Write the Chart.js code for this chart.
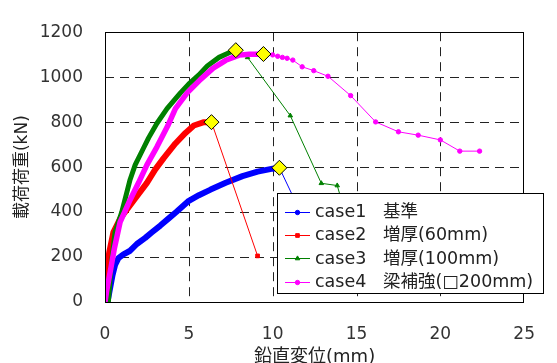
<!DOCTYPE html>
<html>
<head>
<meta charset="utf-8">
<script src="https://cdn.jsdelivr.net/npm/chart.js@4.4.0/dist/chart.umd.min.js"></script>
<style>
  body { margin: 0; background: #fff; }
  #wrap { width: 557px; height: 363px; }
</style>
</head>
<body>
<div id="wrap"><canvas id="loadChart"></canvas></div>
<script>
// ----------------data-------------------------
const xTicks = [0, 5, 10, 15, 20, 25];
const yTicks = [0, 200, 400, 600, 800, 1000, 1200];

const caseNames = ['case1', 'case2', 'case3', 'case4'];
const caseLabels = ['基準', '増厚(60mm)', '増厚(100mm)', '梁補強(□200mm)'];
const caseColors = ['#0000ff', '#ff0000', '#008000', '#ff00ff'];
const caseMarkers = ['circle', 'rect', 'triangle', 'circle'];
const caseWidths = [6, 6, 5, 5.5];

// loading up to the max load (dense measurement, drawn thick)
const case1X = [0.15, 0.3, 0.45, 0.6, 0.8, 1.1, 1.5, 1.9, 2.4, 2.8, 3.3, 3.8, 4.25, 5.0, 5.6, 6.3, 7.2, 8.2, 9.1, 10.0, 10.4];
const case1Y = [0, 60, 120, 165, 195, 212, 228, 258, 285, 310, 340, 372, 400, 450, 475, 500, 530, 560, 580, 593, 597];

const case2X = [0, 0.05, 0.25, 0.5, 0.9, 1.3, 1.8, 2.5, 3.0, 3.5, 4.2, 4.8, 5.3, 5.9, 6.3];
const case2Y = [0, 100, 220, 310, 370, 410, 460, 530, 590, 640, 705, 752, 785, 800, 800];

const case3X = [0.2, 0.35, 0.6, 1.0, 1.5, 1.8, 2.3, 2.6, 3.1, 3.7, 4.5, 5.0, 5.6, 6.1, 6.8, 7.4, 7.8];
const case3Y = [0, 150, 310, 400, 545, 610, 685, 730, 795, 860, 930, 970, 1010, 1050, 1088, 1109, 1120];

const case4X = [0, 0.1, 0.3, 0.55, 0.9, 1.5, 2.0, 2.5, 3.1, 3.75, 4.2, 4.9, 5.7, 6.45, 7.2, 8.0, 8.6, 9.4];
const case4Y = [0, 50, 130, 235, 355, 455, 530, 610, 690, 785, 860, 930, 990, 1040, 1075, 1098, 1102, 1102];

// after the max load
const case1PostX = [10.4, 12.8];
const case1PostY = [597, 220];
const case2PostX = [6.35, 9.1];
const case2PostY = [800, 205];
const case3PostX = [7.8, 8.5, 11.05, 12.9, 13.85, 14.9];
const case3PostY = [1120, 1088, 829, 528, 518, 250];
const case4PostX = [9.45, 10.0, 10.3, 10.58, 10.86, 11.2, 11.76, 12.45, 13.3, 14.65, 16.14, 17.5, 18.68, 20.0, 21.16, 22.34];
const case4PostY = [1102, 1099, 1093, 1088, 1084, 1076, 1046, 1029, 1004, 918, 801, 757, 742, 721, 671, 671];

// max load of each case
const peakX = [10.4, 6.35, 7.8, 9.45];
const peakY = [597, 800, 1120, 1103];

// ----------------helpers-------------------------
const latinFont = '"DejaVu Sans", "Noto Sans CJK JP", sans-serif';

function toPoints(xs, ys) {
	return xs.map((x, i) => ({ x: x, y: ys[i] }));
}

function denseSet(i, xs, ys) {
	return {
		data: toPoints(xs, ys),
		showLine: true,
		borderColor: caseColors[i],
		borderWidth: caseWidths[i],
		borderJoinStyle: 'round',
		borderCapStyle: 'round',
		pointRadius: 0,
		order: 4 - i
	};
}

function postSet(i, xs, ys) {
	return {
		data: toPoints(xs, ys),
		showLine: true,
		borderColor: caseColors[i],
		backgroundColor: caseColors[i],
		borderWidth: 1,
		pointStyle: caseMarkers[i],
		pointRadius: i === 3 ? 2.2 : 2.6,
		pointBorderWidth: 1,
		order: 4 - i
	};
}

// dashed grid drawn under the curves
const gridPlugin = {
	id: 'dashedGrid',
	beforeDatasetsDraw(chart) {
		const ctx = chart.ctx;
		const a = chart.chartArea;
		const xs = chart.scales.x;
		const ys = chart.scales.y;
		ctx.save();
		ctx.strokeStyle = '#222';
		ctx.lineWidth = 1;
		ctx.setLineDash([9, 6]);
		xTicks.slice(1, -1).forEach(v => {
			const px = Math.round(xs.getPixelForValue(v)) + 0.5;
			ctx.beginPath();
			ctx.moveTo(px, a.top);
			ctx.lineTo(px, a.bottom);
			ctx.stroke();
		});
		yTicks.slice(1, -1).forEach(v => {
			const py = Math.round(ys.getPixelForValue(v)) + 0.5;
			ctx.beginPath();
			ctx.moveTo(a.left, py);
			ctx.lineTo(a.right, py);
			ctx.stroke();
		});
		ctx.restore();
	}
};

// frame round the plot + legend box inside it
const framePlugin = {
	id: 'frameAndLegend',
	afterDatasetsDraw(chart) {
		const ctx = chart.ctx;
		const a = chart.chartArea;
		ctx.save();
		ctx.setLineDash([]);
		ctx.strokeStyle = '#000';
		ctx.lineWidth = 1;
		ctx.strokeRect(Math.round(a.left) + 0.5, Math.round(a.top) + 0.5,
			Math.round(a.right - a.left) - 1, Math.round(a.bottom - a.top));

		// legend
		const bx = 277.5, by = 193.5, bw = 266, bh = 100;
		ctx.fillStyle = '#fff';
		ctx.fillRect(bx, by, bw, bh);
		ctx.strokeRect(bx, by, bw, bh);
		ctx.font = '17.5px ' + latinFont;
		ctx.textBaseline = 'middle';
		ctx.textAlign = 'left';
		for (let i = 0; i < caseNames.length; i++) {
			const cy = 211.5 + i * 23.4;
			ctx.strokeStyle = caseColors[i];
			ctx.fillStyle = caseColors[i];
			ctx.lineWidth = 1;
			ctx.beginPath();
			ctx.moveTo(285, Math.round(cy) + 0.5);
			ctx.lineTo(310, Math.round(cy) + 0.5);
			ctx.stroke();
			Chart.helpers.drawPoint(ctx, { pointStyle: caseMarkers[i], radius: i === 0 || i === 3 ? 2.2 : 2.6, borderWidth: 1 }, 297.5, Math.round(cy) + 0.5);
			ctx.fillStyle = '#222';
			ctx.fillText(caseNames[i], 315, cy + 1);
			ctx.fillText(caseLabels[i], 383, cy + 1);
		}
		ctx.restore();
	}
};

function createChart() {
	const datasets = [
		denseSet(0, case1X, case1Y), postSet(0, case1PostX, case1PostY),
		denseSet(1, case2X, case2Y), postSet(1, case2PostX, case2PostY),
		denseSet(2, case3X, case3Y), postSet(2, case3PostX, case3PostY),
		denseSet(3, case4X, case4Y), postSet(3, case4PostX, case4PostY),
		{
			data: toPoints(peakX, peakY),
			showLine: false,
			pointStyle: 'rectRot',
			pointRadius: 7.5,
			pointBackgroundColor: '#ffff00',
			pointBorderColor: '#000',
			pointBorderWidth: 1,
			order: 0
		}
	];

	const config = {
		type: 'scatter',
		data: { datasets: datasets },
		options: {
			responsive: true,
			maintainAspectRatio: false,
			animation: false,
			layout: { padding: { top: 17, right: 7, left: 0, bottom: 0 } },
			plugins: {
				legend: { display: false },
				tooltip: { enabled: false }
			},
			scales: {
				x: {
					type: 'linear',
					min: xTicks[0],
					max: xTicks[xTicks.length - 1],
					afterBuildTicks: scale => { scale.ticks = xTicks.map(v => ({ value: v })); },
					afterFit: scale => { scale.height = 61; },
					grid: { display: false, drawTicks: false },
					border: { display: false },
					ticks: { padding: 22, color: '#333', font: { family: latinFont, size: 17 }, callback: v => String(v) },
					title: {
						display: true,
						text: '鉛直変位(mm)',
						color: '#222',
						padding: { top: 0, bottom: -5 },
						font: { family: latinFont, size: 18 }
					}
				},
				y: {
					type: 'linear',
					min: yTicks[0],
					max: yTicks[yTicks.length - 1],
					afterBuildTicks: scale => { scale.ticks = yTicks.map(v => ({ value: v })); },
					afterFit: scale => { scale.width = 105; },
					grid: { display: false, drawTicks: false },
					border: { display: false },
					ticks: { padding: 22, color: '#333', font: { family: latinFont, size: 17 }, callback: v => String(v) },
					title: {
						display: true,
						text: '載荷荷重(kN)',
						color: '#222',
						padding: { top: 12, bottom: 0 },
						font: { family: latinFont, size: 17 }
					}
				}
			}
		},
		plugins: [gridPlugin, framePlugin]
	};
	new Chart(document.getElementById('loadChart'), config);
}

createChart();
</script>
</body>
</html>
